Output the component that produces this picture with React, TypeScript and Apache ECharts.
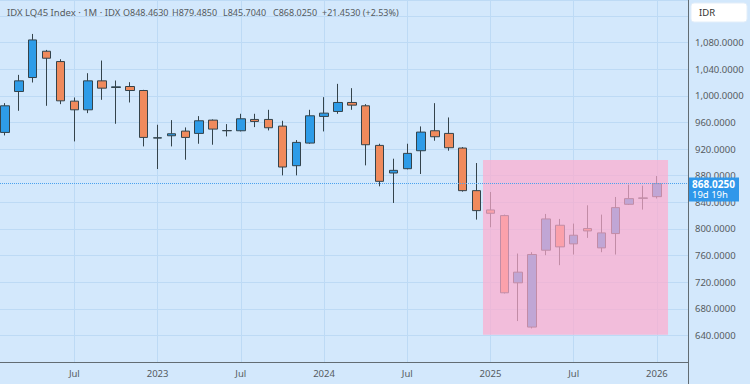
import React, { useEffect, useRef } from 'react';
import * as echarts from 'echarts';

// Monthly candles, Feb 2022 .. Jan 2026
const months = [
  '2022-02', '2022-03', '2022-04', '2022-05', '2022-06', '2022-07', '2022-08', '2022-09', '2022-10', '2022-11', '2022-12',
  '2023-01', '2023-02', '2023-03', '2023-04', '2023-05', '2023-06', '2023-07', '2023-08', '2023-09', '2023-10', '2023-11', '2023-12',
  '2024-01', '2024-02', '2024-03', '2024-04', '2024-05', '2024-06', '2024-07', '2024-08', '2024-09', '2024-10', '2024-11', '2024-12',
  '2025-01', '2025-02', '2025-03', '2025-04', '2025-05', '2025-06', '2025-07', '2025-08', '2025-09', '2025-10', '2025-11', '2025-12',
  '2026-01',
];
const opens = [
  945, 1006.5, 1027.5, 1067, 1051.5, 992, 979, 1022.5, 1012.5, 1014, 1008,
  936.5, 940, 947, 943.5, 963.5, 947.5, 947.5, 964.5, 964.5, 954.5, 895, 929,
  969, 976.5, 990, 985, 925.5, 884, 890.5, 917.5, 947.5, 943.5, 921.5, 857.5,
  828.5, 820, 719, 652.5, 768, 805.5, 777.5, 800.5, 771.5, 793, 837, 846,
  848.463,
];
const closes = [
  985, 1022.5, 1084, 1056.5, 992.5, 979, 1022.5, 1011.5, 1013.5, 1008, 937.5,
  937, 943, 937.5, 962.5, 950, 947.8, 965.5, 961.5, 952, 893, 930, 970,
  974, 990, 986, 926.5, 871.5, 888, 913.5, 945.5, 938.5, 922, 857.5, 827.5,
  823.5, 704, 735, 761.5, 815, 773, 790.5, 797, 794, 832, 845.5, 846.572,
  868.025,
];
const lows = [
  940.5, 977.5, 1020, 985, 987.5, 931.5, 974, 994, 958, 990, 924,
  890, 924, 904, 928, 926.5, 939, 946.5, 953, 948, 880.5, 880.5, 928,
  946.5, 973, 979, 895.5, 864, 839, 889.5, 882.5, 932.5, 917.5, 856, 814,
  802.5, 703, 661.5, 650.5, 760.5, 745.5, 761.5, 786.5, 765, 761.5, 836, 829,
  845.704,
];
const highs = [
  989, 1031.5, 1093, 1069, 1055, 997.5, 1034, 1053, 1023, 1020.5, 1009,
  956.5, 963.5, 952.5, 969.5, 964.5, 957.5, 973, 973, 979, 962.5, 933.5, 979,
  998, 1018, 1011.5, 987.5, 928, 905.5, 928, 954, 989, 967.5, 923, 899,
  855.5, 821.5, 763, 765, 822.5, 815, 808, 835.5, 821.5, 848, 866.5, 865,
  879.485,
];

// x-axis labels (month index into `months`)
const xTickMonths = ['2022-07', '2023-01', '2023-07', '2024-01', '2024-07', '2025-01', '2025-07', '2026-01'];

// highlighted zone (month positions & price bounds)
const zoneMonthFrom = 34.46;
const zoneMonthTo = 47.8;
const zoneTop = 903.5;
const zoneBottom = 641;

const lastPrice = 868.025;
const countdown = '19d 19h';
const headerParts = [
  'IDX LQ45 Index · 1M · IDX',
  'O848.4630',
  'H879.4850',
  'L845.7040',
  'C868.0250',
  '+21.4530 (+2.53%)',
];
const currency = 'IDR';

const FONT = 'Noto Sans';
const BG = '#d3e8fc';
const GRID = '#bddaf5';
const AXIS = '#626c73';
const TXT = '#555b60';

export default function App() {
  const ref = useRef<HTMLDivElement>(null);
  useEffect(() => {
    if (!ref.current) return;
    const chart = echarts.init(ref.current, null, { renderer: 'svg' });
    const tickIdx = xTickMonths.map((m) => months.indexOf(m));
    const data = months.map((_, i) => [i, opens[i], closes[i], lows[i], highs[i]]);
    const fmtNum = (v: number) =>
      v.toLocaleString('en-US', { minimumFractionDigits: 4, maximumFractionDigits: 4 });
    const headerX = [7, 123, 172, 223, 273, 322];
    chart.setOption({
      animation: false,
      backgroundColor: BG,
      textStyle: { fontFamily: FONT },
      grid: { left: 0, right: 62, top: 0, bottom: 22, containLabel: false },
      xAxis: {
        type: 'value',
        min: -0.36,
        max: 49.24,
        axisLine: { show: true, onZero: false, lineStyle: { color: AXIS, width: 1 } },
        axisTick: { show: false, customValues: tickIdx },
        axisLabel: {
          customValues: tickIdx,
          margin: 6,
          fontSize: 9.5,
          color: TXT,
          fontFamily: FONT,
          formatter: (v: number) => {
            const m = months[Math.round(v)] || '';
            return m.endsWith('-01') ? m.slice(0, 4) : 'Jul';
          },
        },
        splitLine: { show: true, lineStyle: { color: GRID, width: 1 } },
      },
      yAxis: {
        type: 'value',
        position: 'right',
        min: 600,
        max: 1144,
        interval: 40,
        axisLine: { show: true, onZero: false, lineStyle: { color: AXIS, width: 1 } },
        axisTick: { show: false },
        axisLabel: {
          align: 'left',
          margin: 7,
          fontSize: 9.5,
          color: TXT,
          fontFamily: FONT,
          formatter: (v: number) => (v < 620 || v > 1100 ? '' : fmtNum(v)),
        },
        splitLine: { show: true, lineStyle: { color: GRID, width: 1 } },
      },
      graphic: [
        ...headerParts.map((t, i) => ({
          type: 'text',
          x: headerX[i],
          y: 12.5,
          z: 100,
          style: {
            text: t,
            fill: TXT,
            fontSize: i === 0 ? 9.5 : 9,
            fontFamily: FONT,
            verticalAlign: 'middle',
          },
        })),
        {
          type: 'rect',
          shape: { x: 691, y: 3, width: 56, height: 19, r: 3 },
          style: { fill: '#ffffff', stroke: '#e3eef9', lineWidth: 1 },
          z: 100,
        },
        {
          type: 'text',
          x: 699,
          y: 12.5,
          style: { text: currency, fill: '#333', fontSize: 9.5, fontFamily: FONT, verticalAlign: 'middle' },
          z: 101,
        },
        {
          type: 'line',
          shape: { x1: 688.5, y1: 362, x2: 688.5, y2: 384 },
          style: { stroke: AXIS, lineWidth: 1 },
          z: 100,
        },
      ],
      series: [
        {
          type: 'candlestick',
          data,
          barWidth: 9,
          itemStyle: {
            color: '#2e9ce8',
            color0: '#f08a5c',
            borderColor: '#34434b',
            borderColor0: '#34434b',
            borderWidth: 1,
          },
          markArea: {
            silent: true,
            z: 10,
            itemStyle: { color: 'rgba(255,171,205,0.7)' },
            data: [[{ coord: [zoneMonthFrom, zoneTop] }, { coord: [zoneMonthTo, zoneBottom] }]],
          },
          markLine: {
            silent: true,
            z: 20,
            symbol: ['none', 'none'],
            lineStyle: { type: 'dotted', color: '#4aa2ee', width: 1, opacity: 1 },
            label: {
              show: true,
              position: 'end',
              distance: 1,
              formatter: () => `{e| }\n{a|${lastPrice.toFixed(4)}}\n{b|${countdown}}`,
              rich: {
                e: { fontSize: 9.5, lineHeight: 11.5, height: 11.5 },
                a: {
                  fontSize: 10,
                  fontWeight: 'bold',
                  color: '#fff',
                  backgroundColor: '#2f97ea',
                  width: 44,
                  height: 11.5,
                  lineHeight: 11.5,
                  padding: [1, 3, 0, 3],
                  fontFamily: FONT,
                },
                b: {
                  fontSize: 9.5,
                  color: '#fff',
                  backgroundColor: '#2f97ea',
                  width: 44,
                  height: 11.5,
                  lineHeight: 11.5,
                  padding: [0, 3, 1, 3],
                  fontFamily: FONT,
                },
              },
            },
            data: [{ yAxis: lastPrice }],
          },
        },
      ],
    });
    return () => chart.dispose();
  }, []);
  return (
    <div
      ref={ref}
      style={{ position: 'fixed', left: 0, top: 0, width: 750, height: 384 }}
    />
  );
}
